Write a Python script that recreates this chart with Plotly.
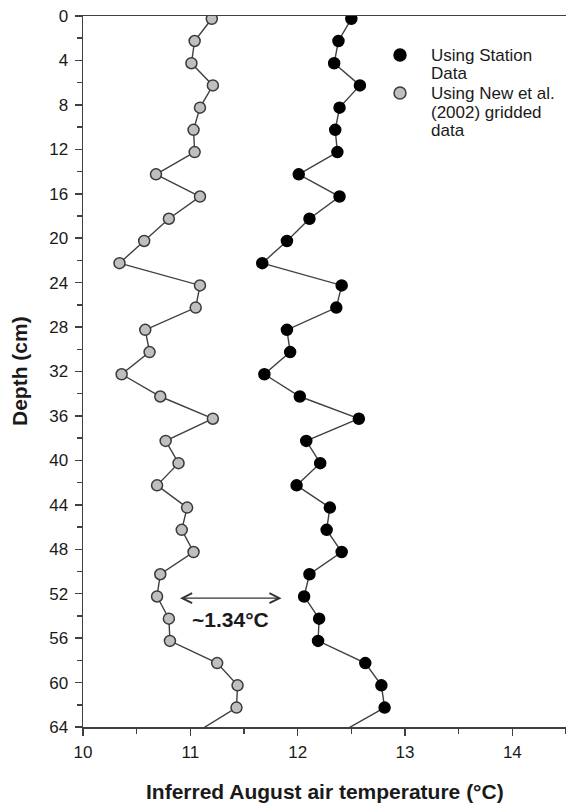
import plotly.graph_objects as go

# Depth of each sample (cm); the last sample lies below the plotted range
depth = [0.25, 2.25, 4.25, 6.25, 8.25, 10.25, 12.25, 14.25, 16.25, 18.25, 20.25,
         22.25, 24.25, 26.25, 28.25, 30.25, 32.25, 34.25, 36.25, 38.25, 40.25,
         42.25, 44.25, 46.25, 48.25, 50.25, 52.25, 54.25, 56.25, 58.25, 60.25,
         62.25, 66.25]

# Inferred August air temperature (°C) using station data
station = [12.50, 12.38, 12.34, 12.58, 12.39, 12.35, 12.37, 12.01, 12.39, 12.11,
           11.90, 11.67, 12.41, 12.36, 11.90, 11.93, 11.69, 12.02, 12.57, 12.08,
           12.21, 11.99, 12.30, 12.27, 12.41, 12.11, 12.06, 12.20, 12.19, 12.63,
           12.78, 12.81, 12.08]

# Inferred August air temperature (°C) using New et al. (2002) gridded data
gridded = [11.20, 11.04, 11.01, 11.21, 11.09, 11.03, 11.04, 10.68, 11.09, 10.80,
           10.57, 10.34, 11.09, 11.05, 10.58, 10.62, 10.36, 10.72, 11.21, 10.77,
           10.89, 10.69, 10.97, 10.92, 11.03, 10.72, 10.69, 10.80, 10.81, 11.25,
           11.44, 11.43, 10.76]

legend_lines = [["Using Station", "Data"],
                ["Using New et al.", "(2002) gridded", "data"]]

x_ticks = [10, 11, 12, 13, 14]
x_minor = [10.5, 11.5, 12.5, 13.5, 14.5]
y_ticks = list(range(0, 65, 4))
y_minor = list(range(2, 64, 4))

# Difference annotation
arrow_from = 10.89
arrow_to = 11.85
arrow_depth = 52.4
diff_label = "~1.34°C"

x_title = "Inferred August air temperature (°C)"
y_title = "Depth (cm)"

FONT = "Liberation Sans, Arial, Helvetica, sans-serif"
TXT = "#1a1a1a"
LINE_C = "#404040"
GRAY = "#bfbfbf"

W, H = 566, 803
ML, MR, MT, MB = 83, 0, 16, 76
PW, PH = W - ML - MR, H - MT - MB

fig = go.Figure()

fig.add_trace(go.Scatter(
    x=gridded, y=depth, mode="lines+markers", showlegend=False,
    line=dict(color=LINE_C, width=1.4),
    marker=dict(size=11, color=GRAY, line=dict(color="#3a3a3a", width=1.5)),
))
fig.add_trace(go.Scatter(
    x=station, y=depth, mode="lines+markers", showlegend=False,
    line=dict(color=LINE_C, width=1.4),
    marker=dict(size=11, color="#000000", line=dict(color="#000000", width=1.5)),
))

# double-headed arrow with label
fig.add_annotation(
    x=arrow_to, y=arrow_depth, ax=arrow_from, ay=arrow_depth,
    xref="x", yref="y", axref="x", ayref="y",
    text="", showarrow=True, arrowside="end+start",
    arrowhead=5, startarrowhead=5, arrowsize=1.4, startarrowsize=1.4,
    arrowwidth=1.4, arrowcolor="#333333",
)
fig.add_annotation(
    x=(arrow_from + arrow_to) / 2, y=54.3, xref="x", yref="y",
    text="<b>" + diff_label + "</b>", showarrow=False,
    font=dict(family=FONT, size=21, color=TXT),
)


def px_x(page_x):
    return (page_x - ML) / PW


def px_y(page_y):
    return 1 - (page_y - MT) / PH


# legend drawn as symbols + text lines
legend_styles = [dict(fill="#000000", edge="#000000"), dict(fill=GRAY, edge="#3a3a3a")]
legend_row_y = [[55, 73], [93, 112, 130]]
for lines, rows, sty in zip(legend_lines, legend_row_y, legend_styles):
    fig.add_shape(
        type="circle", xref="paper", yref="paper",
        xsizemode="pixel", ysizemode="pixel",
        xanchor=px_x(400), yanchor=px_y(rows[0]),
        x0=-6, x1=6, y0=-6, y1=6,
        fillcolor=sty["fill"], line=dict(color=sty["edge"], width=1.5),
    )
    for txt, ry in zip(lines, rows):
        fig.add_annotation(
            x=px_x(429), y=px_y(ry), xref="paper", yref="paper",
            xanchor="left", yanchor="middle", text=txt, showarrow=False,
            font=dict(family=FONT, size=17, color=TXT),
        )

# axis titles
fig.add_annotation(
    x=0.5, y=px_y(791), xref="paper", yref="paper",
    xanchor="center", yanchor="middle",
    text="<b>" + x_title + "</b>", showarrow=False,
    font=dict(family=FONT, size=21, color=TXT),
)
fig.add_annotation(
    x=px_x(19), y=px_y(371), xref="paper", yref="paper",
    xanchor="center", yanchor="middle",
    text="<b>" + y_title + "</b>", showarrow=False, textangle=-90,
    font=dict(family=FONT, size=21, color=TXT),
)

fig.update_layout(
    width=W, height=H,
    margin=dict(l=ML, r=MR, t=MT, b=MB, pad=0),
    paper_bgcolor="white", plot_bgcolor="white",
    font=dict(family=FONT, size=17, color=TXT),
    showlegend=False,
    hovermode=False,
    xaxis=dict(
        range=[10, 14.5], tickmode="array", tickvals=x_ticks,
        ticks="outside", ticklen=7, tickwidth=1.5, tickcolor=LINE_C,
        minor=dict(tickvals=x_minor, ticks="outside",
                   ticklen=5, tickwidth=1.5, tickcolor=LINE_C),
        showline=True, linecolor=LINE_C, linewidth=1.5, mirror=True,
        showgrid=False, zeroline=False, ticklabeloverflow="allow",
        ticklabelstandoff=2,
        tickfont=dict(family=FONT, size=17, color=TXT),
    ),
    yaxis=dict(
        range=[64, 0], tickmode="array", tickvals=y_ticks,
        ticks="outside", ticklen=7, tickwidth=1.5, tickcolor=LINE_C,
        minor=dict(tickvals=y_minor, ticks="outside",
                   ticklen=5, tickwidth=1.5, tickcolor=LINE_C),
        showline=True, linecolor=LINE_C, linewidth=1.5, mirror=False,
        showgrid=False, zeroline=False, ticklabeloverflow="allow",
        ticklabelstandoff=3,
        tickfont=dict(family=FONT, size=17, color=TXT),
    ),
)

fig.write_html(
    "out.html",
    config={"displayModeBar": False, "staticPlot": True},
    post_script="document.body.style.margin='0';document.body.style.overflow='hidden';",
)
